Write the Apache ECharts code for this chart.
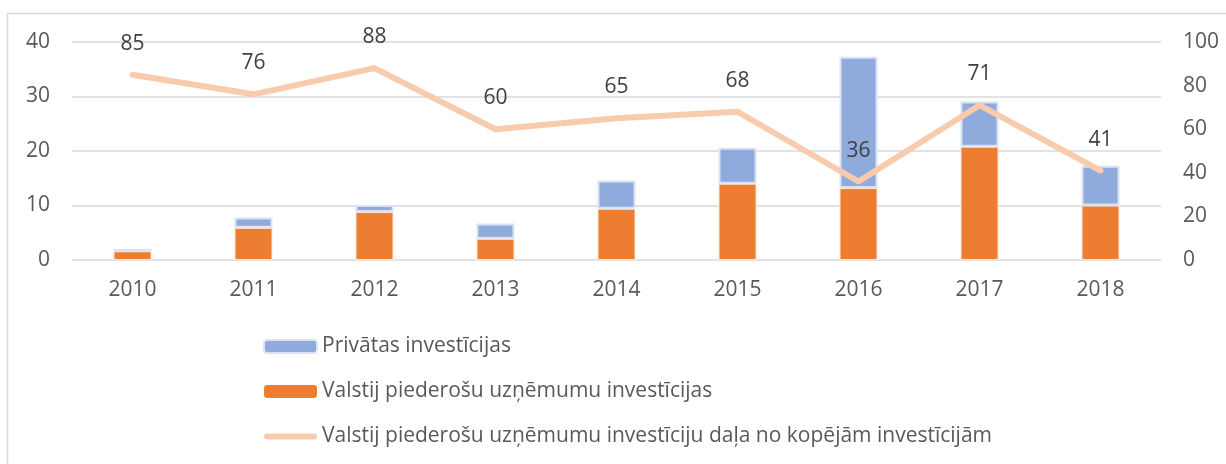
<!DOCTYPE html>
<html>
<head>
<meta charset="utf-8">
<script src="https://cdn.jsdelivr.net/npm/echarts@6/dist/echarts.min.js"></script>
<style>
  html, body { margin: 0; padding: 0; background: #fff; }
  #chart { width: 1226px; height: 464px; }
</style>
</head>
<body>
<div id="chart"></div>
<script>
const years = ['2010', '2011', '2012', '2013', '2014', '2015', '2016', '2017', '2018'];
const privatas = [0.4, 1.9, 1.3, 2.8, 5.2, 6.6, 24.1, 8.3, 7.3];
const valsts = [1.6, 5.9, 8.8, 3.9, 9.4, 14.0, 13.2, 20.8, 10.0];
const dala = [85, 76, 88, 60, 65, 68, 36, 71, 41];

const txt = '#595959';
const font = 'Open Sans';
const fs = 21;

let myChart = echarts.init(document.querySelector('#chart'), null, { renderer: 'canvas' });

let option = {
  backgroundColor: '#fff',
  animation: false,
  textStyle: { fontFamily: font },
  graphic: [
    {
      type: 'polyline',
      shape: { points: [[7.5, 464], [7.5, 13.5], [1226, 13.5]] },
      style: { stroke: '#d9d9d9', lineWidth: 1.5, fill: null }
    }
  ],
  grid: { left: 72, right: 65, top: 42, bottom: 204 },
  legend: {
    orient: 'vertical',
    left: 258,
    top: 331,
    itemWidth: 53,
    itemHeight: 13,
    itemGap: 24,
    textStyle: { color: txt, fontSize: fs, fontFamily: font },
    data: [
      { name: 'Privātas investīcijas' },
      {
        name: 'Valstij piederošu uzņēmumu investīcijas',
        itemStyle: { borderWidth: 0 }
      },
      {
        name: 'Valstij piederošu uzņēmumu investīciju daļa no kopējām investīcijām',
        icon: 'path://M3,0 H50 A3,3 0 0 1 50,6 H3 A3,3 0 0 1 3,0 Z',
        itemStyle: { color: '#f8cbad' }
      }
    ]
  },
  xAxis: {
    type: 'category',
    data: years,
    axisLine: { show: false },
    axisTick: { show: false },
    axisLabel: { color: txt, fontSize: fs, fontFamily: font, margin: 20 }
  },
  yAxis: [
    {
      type: 'value',
      min: 0,
      max: 40,
      interval: 10,
      axisLine: { show: false },
      axisTick: { show: false },
      axisLabel: { color: txt, fontSize: fs, fontFamily: font, margin: 22 },
      splitLine: { lineStyle: { color: '#d9d9d9', width: 1.5 } }
    },
    {
      type: 'value',
      min: 0,
      max: 100,
      interval: 20,
      axisLine: { show: false },
      axisTick: { show: false },
      axisLabel: { color: txt, fontSize: fs, fontFamily: font, margin: 22 },
      splitLine: { show: false }
    }
  ],
  series: [
    {
      name: 'Valstij piederošu uzņēmumu investīcijas',
      type: 'bar',
      stack: 'inv',
      barWidth: 38,
      data: valsts,
      itemStyle: { color: '#ed7d31', borderColor: '#fbe5d6', borderWidth: 1 }
    },
    {
      name: 'Privātas investīcijas',
      type: 'bar',
      stack: 'inv',
      barWidth: 38,
      data: privatas,
      itemStyle: { color: '#8faadc', borderColor: '#dae3f3', borderWidth: 2 }
    },
    {
      name: 'Valstij piederošu uzņēmumu investīciju daļa no kopējām investīcijām',
      type: 'line',
      yAxisIndex: 1,
      data: dala,
      symbol: 'circle',
      symbolSize: 1,
      showSymbol: true,
      z: 5,
      lineStyle: { color: '#f8cbad', width: 6, cap: 'round', join: 'round' },
      itemStyle: { color: 'rgba(248,203,173,0)' },
      label: {
        show: true,
        position: 'top',
        distance: 20,
        color: '#404040',
        fontSize: fs,
        fontFamily: font
      }
    }
  ]
};

myChart.setOption(option);
</script>
</body>
</html>
